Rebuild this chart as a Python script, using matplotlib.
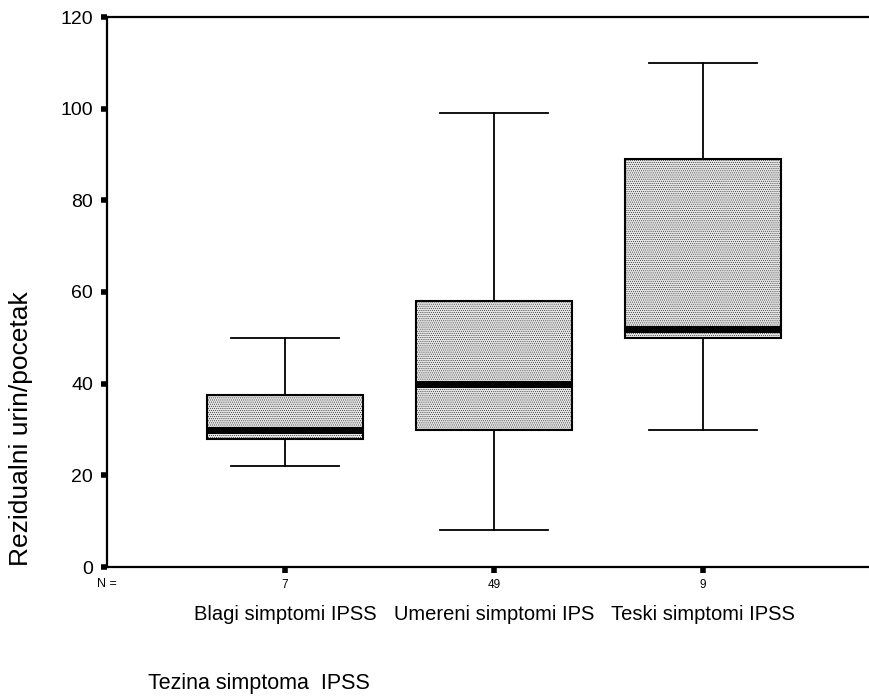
import matplotlib.pyplot as plt
import matplotlib.transforms as mtransforms

plt.rcParams['font.family'] = ['Liberation Sans', 'DejaVu Sans']
plt.rcParams['hatch.color'] = '#a6a6a6'
plt.rcParams['hatch.linewidth'] = 0.3

# Box plot summary values
categories = ['Blagi simptomi IPSS', 'Umereni simptomi IPS', 'Teski simptomi IPSS']
n_counts = [7, 49, 9]
whis_low = [22, 8, 30]
q1 = [28, 30, 50]
medians = [30, 40, 52]
q3 = [37.5, 58, 89]
whis_high = [50, 99, 110]
y_ticks = [0, 20, 40, 60, 80, 100, 120]

stats = []
for i in range(len(categories)):
    stats.append({'label': str(n_counts[i]), 'whislo': whis_low[i], 'q1': q1[i],
                  'med': medians[i], 'q3': q3[i], 'whishi': whis_high[i], 'fliers': []})

fig = plt.figure(figsize=(8.7, 6.98), dpi=100)
ax = fig.add_axes([107 / 870, 131 / 698, 774 / 870, 550 / 698])

positions = [1, 2, 3]
ax.bxp(stats, positions=positions, widths=0.746, patch_artist=True, showfliers=False,
       boxprops=dict(facecolor='#e4e4e4', edgecolor='black', linewidth=1.5, hatch='........'),
       medianprops=dict(color='black', linewidth=5, solid_capstyle='butt'),
       whiskerprops=dict(color='black', linewidth=1.3),
       capprops=dict(color='black', linewidth=1.3),
       capwidths=0.52)

ax.set_xlim(0.148, 3.852)
ax.set_ylim(0, 120)
ax.set_yticks(y_ticks)
ax.set_yticklabels([str(v) for v in y_ticks], fontsize=14)
ax.set_xticks(positions)
ax.set_xticklabels([str(n) for n in n_counts], fontsize=8.5)

ax.spines['right'].set_visible(False)
for s in ['top', 'left', 'bottom']:
    ax.spines[s].set_linewidth(1.6)
ax.tick_params(axis='both', direction='out', length=4, width=4, color='black')
ax.tick_params(axis='y', pad=6)
ax.tick_params(axis='x', pad=5)

# N = label and category names under the counts
trans = mtransforms.blended_transform_factory(ax.transData, ax.transAxes)
fig.text(107 / 870, 1 - 584 / 698, 'N =', fontsize=9, ha='center', va='center')
for i, cat in enumerate(categories):
    ax.text(positions[i], -0.087, cat, transform=trans, ha='center', va='center', fontsize=14.5)

fig.text(148 / 870, 1 - 684 / 698, 'Tezina simptoma  IPSS', fontsize=15.5, ha='left', va='center')
fig.text(21 / 870, 1 - 429 / 698, 'Rezidualni urin/pocetak', fontsize=19, rotation=90,
         ha='center', va='center')

fig.savefig('out.png', dpi=100)
